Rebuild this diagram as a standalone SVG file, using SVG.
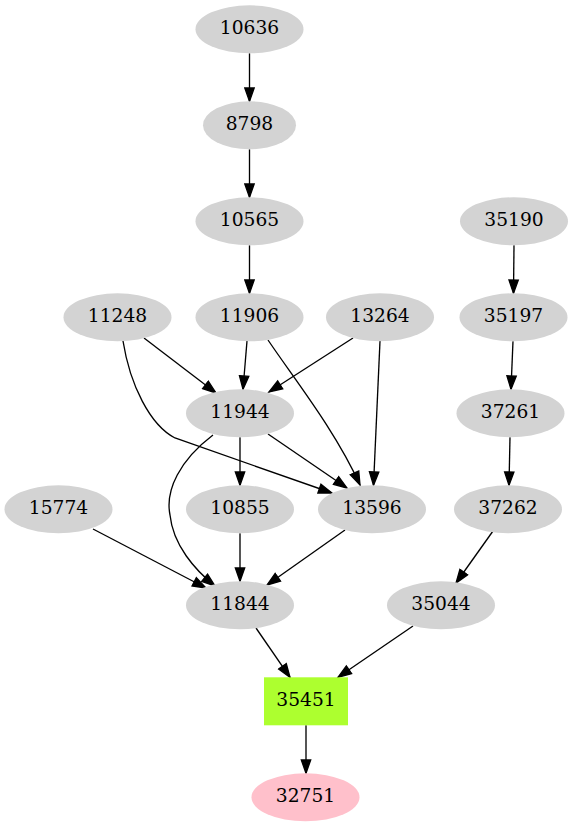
<svg xmlns="http://www.w3.org/2000/svg" width="573" height="827" viewBox="0 0 573 827">
<style>
.n ellipse{fill:#d3d3d3;stroke:none}
.n text{font-family:"DejaVu Serif","Liberation Serif",serif;font-size:18.67px;text-anchor:middle;fill:#000}
#edges path{fill:none;stroke:#000;stroke-width:1.33;marker-end:url(#ah)}
</style>
<defs>
<marker id="ah" markerUnits="userSpaceOnUse" viewBox="-1 -6 16 12" refX="13.3" refY="0" markerWidth="16" markerHeight="12" orient="auto">
<path d="M0,-4.67 L13.3,0 L0,4.67 Z" fill="#000" stroke="#000" stroke-width="1.33"/>
</marker>
</defs>
<rect width="573" height="827" fill="#fff"/>
<g id="edges">
<path d="M249.5,53.3 L249.5,101.3"/>
<path d="M249.5,149.3 L249.5,197.3"/>
<path d="M249.5,245.3 L249.5,293.3"/>
<path d="M514,245.3 L513.5,293.3"/>
<path d="M513,341.3 L511,389.3"/>
<path d="M510,437.3 L509,485.3"/>
<path d="M493,531 L456,583"/>
<path d="M413,626 L338,677.3"/>
<path d="M256,628 L290,677.3"/>
<path d="M306,725.3 L306,773.3"/>
<path d="M144,338 L216,393"/>
<path d="M247,341 L243,389.3"/>
<path d="M353,338 L269,392"/>
<path d="M380,341 L373.5,485.3"/>
<path d="M268,340 C295,380 335,430 360,485"/>
<path d="M123,341 C130,385 150,425 175,438 L332,493"/>
<path d="M268,434 L347,488"/>
<path d="M240,437.3 L240,485.3"/>
<path d="M213,435 C180,460 165,490 170,515 C173,545 195,570 215,586"/>
<path d="M240,533.3 L240,581.3"/>
<path d="M93,529 L206,588"/>
<path d="M345,530 L267,585"/>
</g>
<g id="n10636" class="n"><ellipse cx="249.5" cy="29.3" rx="54" ry="24"/><text x="249.5" y="34.3">10636</text></g>
<g id="n8798" class="n"><ellipse cx="249.5" cy="125.3" rx="46.5" ry="24"/><text x="249.5" y="130.3">8798</text></g>
<g id="n10565" class="n"><ellipse cx="249.5" cy="221.3" rx="54" ry="24"/><text x="249.5" y="226.3">10565</text></g>
<g id="n35190" class="n"><ellipse cx="514" cy="221.3" rx="54" ry="24"/><text x="514" y="226.3">35190</text></g>
<g id="n11248" class="n"><ellipse cx="117.5" cy="317.3" rx="54" ry="24"/><text x="117.5" y="322.3">11248</text></g>
<g id="n11906" class="n"><ellipse cx="249.5" cy="317.3" rx="54" ry="24"/><text x="249.5" y="322.3">11906</text></g>
<g id="n13264" class="n"><ellipse cx="380" cy="317.3" rx="54" ry="24"/><text x="380" y="322.3">13264</text></g>
<g id="n35197" class="n"><ellipse cx="513.5" cy="317.3" rx="54" ry="24"/><text x="513.5" y="322.3">35197</text></g>
<g id="n11944" class="n"><ellipse cx="240" cy="413.3" rx="54" ry="24"/><text x="240" y="418.3">11944</text></g>
<g id="n37261" class="n"><ellipse cx="510.5" cy="413.3" rx="54" ry="24"/><text x="510.5" y="418.3">37261</text></g>
<g id="n15774" class="n"><ellipse cx="58.5" cy="509.3" rx="54" ry="24"/><text x="58.5" y="514.3">15774</text></g>
<g id="n10855" class="n"><ellipse cx="240" cy="509.3" rx="54" ry="24"/><text x="240" y="514.3">10855</text></g>
<g id="n13596" class="n"><ellipse cx="372" cy="509.3" rx="54" ry="24"/><text x="372" y="514.3">13596</text></g>
<g id="n37262" class="n"><ellipse cx="508" cy="509.3" rx="54" ry="24"/><text x="508" y="514.3">37262</text></g>
<g id="n11844" class="n"><ellipse cx="240" cy="605.3" rx="54" ry="24"/><text x="240" y="610.3">11844</text></g>
<g id="n35044" class="n"><ellipse cx="441" cy="605.3" rx="54" ry="24"/><text x="441" y="610.3">35044</text></g>
<g id="n35451" class="n"><rect x="264" y="677.3" width="84" height="48" fill="#adff2f"/><text x="306" y="706.3">35451</text></g>
<g id="n32751" class="n"><ellipse cx="305.5" cy="797.3" rx="54" ry="24" style="fill:#ffc0cb"/><text x="305.5" y="802.3">32751</text></g>
</svg>
